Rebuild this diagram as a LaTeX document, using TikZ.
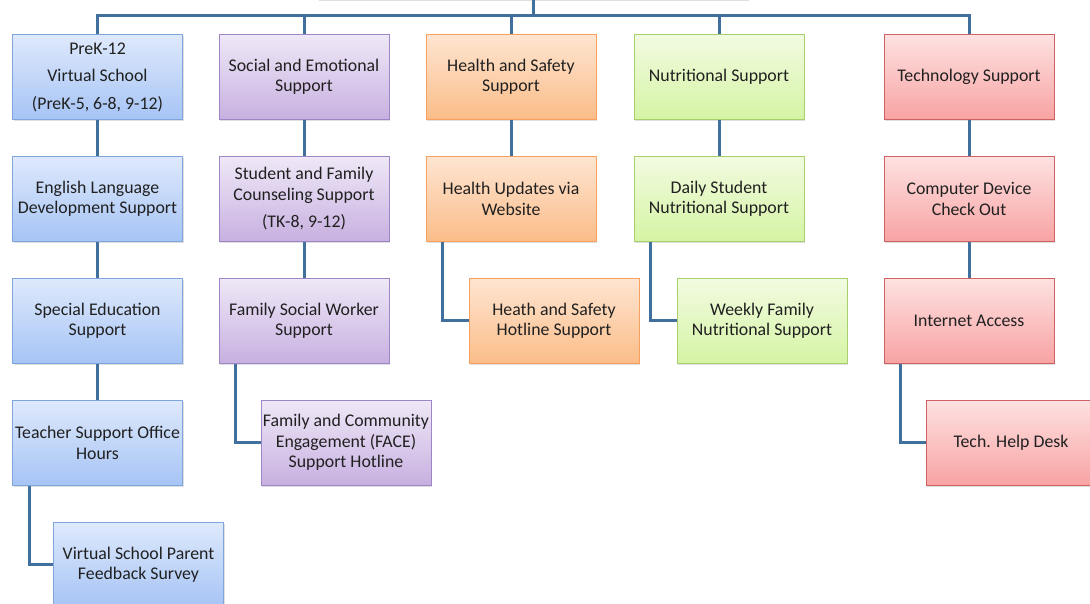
\documentclass[tikz,border=0pt]{standalone}
\usepackage{fontspec}
\setmainfont{Carlito}
\usepackage{xcolor}
\usetikzlibrary{positioning,%
                shadows}
\definecolor{linkblue}{HTML}{41709E}
\definecolor{txtgray}{HTML}{202020}
\definecolor{HTML7FA5DC}{HTML}{7FA5DC}\definecolor{HTMLDEE9FC}{HTML}{DEE9FC}\definecolor{HTMLA6C4F5}{HTML}{A6C4F5}
\definecolor{HTML9E86C6}{HTML}{9E86C6}\definecolor{HTMLEFE8F7}{HTML}{EFE8F7}\definecolor{HTMLC7B0E0}{HTML}{C7B0E0}
\definecolor{HTMLF9A05E}{HTML}{F9A05E}\definecolor{HTMLFEE5D1}{HTML}{FEE5D1}\definecolor{HTMLFBBD89}{HTML}{FBBD89}
\definecolor{HTMLA9CE6C}{HTML}{A9CE6C}\definecolor{HTMLF2FBE1}{HTML}{F2FBE1}\definecolor{HTMLD5F4A4}{HTML}{D5F4A4}
\definecolor{HTMLCF6363}{HTML}{CF6363}\definecolor{HTMLFEE1E1}{HTML}{FEE1E1}\definecolor{HTMLF8A3A3}{HTML}{F8A3A3}

\tikzset{
  box/.style={draw, line width=0.9pt, minimum width=170pt, minimum height=85pt,
    inner sep=0pt, align=center, text=txtgray,
    font=\fontsize{17.8pt}{20.5pt}\selectfont,
    drop shadow={shadow xshift=1.2pt, shadow yshift=-1.8pt, opacity=0.25}},
  bluebox/.style={box, draw=HTML7FA5DC, top color=HTMLDEE9FC, bottom color=HTMLA6C4F5},
  purplebox/.style={box, draw=HTML9E86C6, top color=HTMLEFE8F7, bottom color=HTMLC7B0E0},
  orangebox/.style={box, draw=HTMLF9A05E, top color=HTMLFEE5D1, bottom color=HTMLFBBD89},
  greenbox/.style={box, draw=HTMLA9CE6C, top color=HTMLF2FBE1, bottom color=HTMLD5F4A4},
  redbox/.style={box, draw=HTMLCF6363, top color=HTMLFEE1E1, bottom color=HTMLF8A3A3},
  link/.style={draw=linkblue, line width=3pt}
}

\begin{document}
\begin{tikzpicture}[x=1pt, y={(0pt,-1pt)}]
  \useasboundingbox (0,0) rectangle (1090,604);

  \node[box, draw=gray!40, fill=white, minimum width=430pt] (root) at (533,-43) {};
  \coordinate (bus) at (533,16);

  \node[bluebox]   (pre1) at (97.5,77)  {PreK-12\\[7pt]Virtual School\\[7pt](PreK-5, 6-8, 9-12)};
  \node[purplebox] (soc1) at (304,77)   {Social and Emotional\\Support};
  \node[orangebox] (hea1) at (511,77)   {Health and Safety\\Support};
  \node[greenbox]  (nut1) at (719,77)   {Nutritional Support};
  \node[redbox]    (tec1) at (969,77)   {Technology Support};

  \node[bluebox, below=36pt of pre1] (pre2) {English Language\\Development Support};
  \node[bluebox, below=36pt of pre2] (pre3) {Special Education\\Support};
  \node[bluebox, below=36pt of pre3] (pre4) {Teacher Support Office\\Hours};
  \node[bluebox, below=36pt of pre4, xshift=41pt] (pre5) {Virtual School Parent\\Feedback Survey};

  \node[purplebox, below=36pt of soc1] (soc2) {Student and Family\\Counseling Support\\[7pt](TK-8, 9-12)};
  \node[purplebox, below=36pt of soc2] (soc3) {Family Social Worker\\Support};
  \node[purplebox, below=36pt of soc3, xshift=42pt] (soc4) {Family and Community\\Engagement (FACE)\\Support Hotline};

  \node[orangebox, below=36pt of hea1] (hea2) {Health Updates via\\Website};
  \node[orangebox, below=36pt of hea2, xshift=43pt] (hea3) {Heath and Safety\\Hotline Support};

  \node[greenbox, below=36pt of nut1] (nut2) {Daily Student\\Nutritional Support};
  \node[greenbox, below=36pt of nut2, xshift=43pt] (nut3) {Weekly Family\\Nutritional Support};

  \node[redbox, below=36pt of tec1] (tec2) {Computer Device\\Check Out};
  \node[redbox, below=36pt of tec2] (tec3) {Internet Access};
  \node[redbox, below=36pt of tec3, xshift=42pt] (tec4) {Tech. Help Desk};

  \draw[link] (root.south) -- (bus);
  \foreach \n in {pre1,soc1,hea1,nut1,tec1}
    \draw[link] (\n.north) |- (bus);
  \foreach \a/\b in {pre1/pre2,pre2/pre3,pre3/pre4,soc1/soc2,soc2/soc3,hea1/hea2,nut1/nut2,tec1/tec2,tec2/tec3}
    \draw[link] (\a) -- (\b);
  \foreach \a/\b in {pre4/pre5,soc3/soc4,hea2/hea3,nut2/nut3,tec3/tec4}
    \draw[link] ([xshift=17pt]\a.south west) |- (\b.west);
\end{tikzpicture}
\end{document}
